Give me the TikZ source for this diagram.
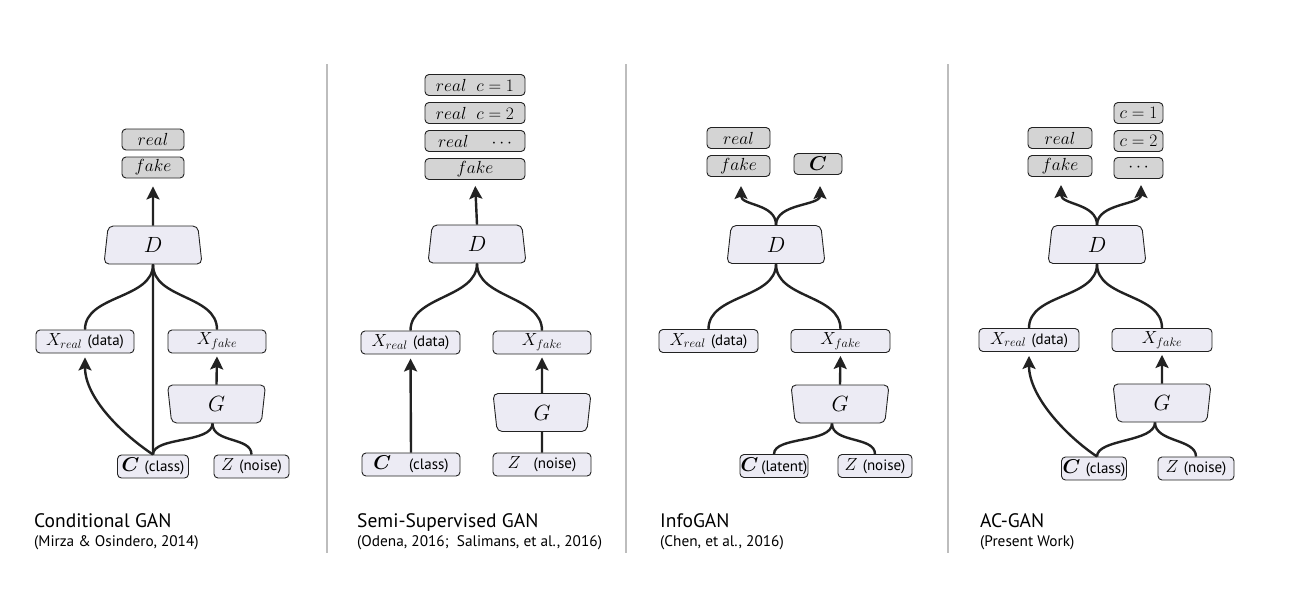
\RequirePackage{fix-cm}
\documentclass[tikz,border=0pt]{standalone}
\usepackage[no-math]{fontspec}
\newfontfamily\capfont{PT Sans}
\usepackage{bm}
\usetikzlibrary{arrows.meta,shapes.geometric,calc}
\definecolor{boxfill}{HTML}{ECEBF4}
\definecolor{outfill}{HTML}{D4D4D4}
\definecolor{edgecol}{HTML}{222222}
\definecolor{sepcol}{HTML}{BDBDBD}
\newcommand{\lbl}[1]{{\capfont\fontsize{15}{17}\selectfont #1}}
\newcommand{\bigC}{{\fontsize{20}{20}\selectfont$\bm{C}$}}
\tikzset{
  gbox/.style={draw=edgecol, fill=boxfill, rounded corners=4pt, line width=0.9pt, inner sep=0pt,
               minimum height=23pt, font=\fontsize{17.5}{20}\selectfont},
  outbox/.style={gbox, fill=outfill, minimum height=21pt},
  dtrap/.style={trapezium, trapezium left angle=74.5, trapezium right angle=74.5,
                trapezium stretches body, draw=edgecol, fill=boxfill, rounded corners=5pt,
                line width=0.9pt, inner sep=0pt, minimum height=38pt, minimum width=98pt,
                font=\fontsize{22}{24}\selectfont},
  gtrap/.style={dtrap, trapezium left angle=105.5, trapezium right angle=105.5},
  conn/.style={draw=edgecol, line width=2.4pt},
  arr/.style={conn, -{Stealth[length=13pt,width=13pt,inset=2.5pt]}},
  seprule/.style={draw=sepcol, line width=1.2pt},
  captxt/.style={anchor=base west, inner sep=0pt, font=\capfont\fontsize{19.5}{22}\selectfont},
  capsub/.style={anchor=base west, inner sep=0pt, font=\capfont\fontsize{15.3}{18}\selectfont},
}
\begin{document}
\begin{tikzpicture}[x=1pt,y=-1pt]
\fill[white] (0,0) rectangle (1304,592);
\useasboundingbox (0,0) rectangle (1304,592);
% separators
\draw[seprule] (327,64) -- (327,553);
\draw[seprule] (626,64) -- (626,553);
\draw[seprule] (948,64) -- (948,553);

% ---------------- Panel 1: Conditional GAN
\node[outbox, minimum width=62pt] (real1) at (153,139.5) {$real$};
\node[outbox, minimum width=62pt] (fake1) at (153,167.5) {$fake$};
\node[dtrap] (D1) at (153,245) {$D$};
\node[gbox, minimum width=98pt] (xr1) at (85,341.5) {$X_{real}$ \lbl{(data)}};
\node[gbox, minimum width=98pt] (xf1) at (217,341.5) {$X_{fake}$};
\node[gtrap] (G1) at (216.5,404) {$G$};
\node[gbox, minimum width=71pt] (c1) at (153,466.5) {\bigC\ \lbl{(class)}};
\node[gbox, minimum width=75pt] (z1) at (251.5,466.5) {$Z$ \lbl{(noise)}};
\draw[arr, shorten >=8pt] (D1.north) -- (fake1.south);
\draw[conn] (D1.south) .. controls +(0,35) and +(0,-35) .. (xr1.north);
\draw[conn] (D1.south) .. controls +(0,35) and +(0,-35) .. (xf1.north);
\draw[conn] (D1.south) -- (c1.north);
\draw[arr, shorten >=4pt] (c1.north) .. controls +(-30,-20) and +(0,45) .. (xr1.south);
\draw[arr, shorten >=3pt] (G1.north) -- (xf1.south);
\draw[conn] ([xshift=-4pt]G1.south) .. controls +(0,20) and +(0,-18) .. (c1.north);
\draw[conn] ([xshift=-4pt]G1.south) .. controls +(0,20) and +(0,-18) .. (z1.north);

% ---------------- Panel 2: Semi-Supervised GAN
\node[outbox, minimum width=100pt] (o21) at (475,85) {$real\;\; c=1$};
\node[outbox, minimum width=100pt] (o22) at (475,113) {$real\;\; c=2$};
\node[outbox, minimum width=100pt] (o23) at (475,141) {$real\hspace{20pt}\cdots$};
\node[outbox, minimum width=100pt] (fake2) at (475,169) {$fake$};
\node[dtrap] (D2) at (477,244) {$D$};
\node[gbox, minimum width=99pt] (xr2) at (410.5,342.5) {$X_{real}$ \lbl{(data)}};
\node[gbox, minimum width=98pt] (xf2) at (542,342.5) {$X_{fake}$};
\node[gtrap] (G2) at (542,412.5) {$G$};
\node[gbox, minimum width=98pt] (c2) at (411,464.5) {\bigC\hspace{18pt}\lbl{(class)}};
\node[gbox, minimum width=98pt] (z2) at (542,464.5) {$Z$\hspace{13pt}\lbl{(noise)}};
\draw[arr, shorten >=6pt] (D2.north) -- (fake2.south);
\draw[conn] (D2.south) .. controls +(0,35) and +(0,-35) .. (xr2.north);
\draw[conn] (D2.south) .. controls +(0,35) and +(0,-35) .. (xf2.north);
\draw[arr, shorten >=4pt] (c2.north) -- (xr2.south);
\draw[arr, shorten >=3pt] (G2.north) -- (xf2.south);
\draw[conn] (z2.north) -- (G2.south);

% ---------------- Panel 3: InfoGAN
\node[outbox, minimum width=63pt] (real3) at (738.5,138) {$real$};
\node[outbox, minimum width=63pt] (fake3) at (738.5,166) {$fake$};
\node[outbox, minimum width=48pt] (cout3) at (818,164) {\bigC};
\node[dtrap] (D3) at (776,244.5) {$D$};
\coordinate (t3l) at (741,186);
\coordinate (t3r) at (820,186);
\node[gbox, minimum width=99pt] (xr3) at (708.5,341) {$X_{real}$ \lbl{(data)}};
\node[gbox, minimum width=99pt] (xf3) at (840.5,341) {$X_{fake}$};
\node[gtrap] (G3) at (840,404) {$G$};
\node[gbox, minimum width=68pt] (c3) at (774,466) {\bigC\,\lbl{(latent)}};
\node[gbox, minimum width=74pt] (z3) at (875,466) {$Z$ \lbl{(noise)}};
\draw[arr] (D3.north) .. controls +(0,-22) and +(0,20) .. (t3l);
\draw[arr] (D3.north) .. controls +(0,-22) and +(0,20) .. (t3r);
\draw[conn] (D3.south) .. controls +(0,35) and +(0,-35) .. (xr3.north);
\draw[conn] (D3.south) .. controls +(0,35) and +(0,-35) .. (xf3.north);
\draw[arr, shorten >=3pt] (G3.north) -- (xf3.south);
\draw[conn] ([xshift=-8pt]G3.south) .. controls +(0,20) and +(0,-18) .. (c3.north);
\draw[conn] ([xshift=-8pt]G3.south) .. controls +(0,20) and +(0,-18) .. (z3.north);

% ---------------- Panel 4: AC-GAN
\node[outbox, minimum width=64pt] (real4) at (1060,138) {$real$};
\node[outbox, minimum width=64pt] (fake4) at (1060,166) {$fake$};
\node[outbox, minimum width=49pt] (co41) at (1138.5,113) {$c=1$};
\node[outbox, minimum width=49pt] (co42) at (1138.5,141) {$c=2$};
\node[outbox, minimum width=49pt] (co43) at (1138.5,168) {$\cdots$};
\node[dtrap] (D4) at (1097,244.5) {$D$};
\coordinate (t4l) at (1061,185);
\coordinate (t4r) at (1141,185);
\node[gbox, minimum width=100pt] (xr4) at (1029,340) {$X_{real}$ \lbl{(data)}};
\node[gbox, minimum width=100pt] (xf4) at (1162,340) {$X_{fake}$};
\node[gtrap] (G4) at (1162,403) {$G$};
\node[gbox, minimum width=65pt] (c4) at (1094,468.5) {\bigC\ \lbl{(class)}};
\node[gbox, minimum width=76pt] (z4) at (1196,468.5) {$Z$ \lbl{(noise)}};
\draw[arr] (D4.north) .. controls +(0,-22) and +(0,20) .. (t4l);
\draw[arr] (D4.north) .. controls +(0,-22) and +(0,20) .. (t4r);
\draw[conn] (D4.south) .. controls +(0,35) and +(0,-35) .. (xr4.north);
\draw[conn] (D4.south) .. controls +(0,35) and +(0,-35) .. (xf4.north);
\draw[arr, shorten >=4pt] ([xshift=3pt]c4.north) .. controls +(-30,-20) and +(0,45) .. (xr4.south);
\draw[arr, shorten >=3pt] (G4.north) -- (xf4.south);
\draw[conn] ([xshift=-7pt]G4.south) .. controls +(0,20) and +(0,-18) .. ([xshift=3pt]c4.north);
\draw[conn] ([xshift=-7pt]G4.south) .. controls +(0,20) and +(0,-18) .. (z4.north);

% ---------------- Captions
\node[captxt] (cap1) at (34,527) {Conditional GAN};
\node[capsub] (cap1b) at (34,546) {(Mirza \& Osindero, 2014)};
\node[captxt] (cap2) at (357,527) {Semi-Supervised GAN};
\node[capsub] (cap2b) at (357,546) {(Odena, 2016;\ \ Salimans, et al., 2016)};
\node[captxt] (cap3) at (660,527) {InfoGAN};
\node[capsub] (cap3b) at (660,546) {(Chen, et al., 2016)};
\node[captxt] (cap4) at (980,527) {AC-GAN};
\node[capsub] (cap4b) at (980,546) {(Present Work)};
\end{tikzpicture}
\end{document}
